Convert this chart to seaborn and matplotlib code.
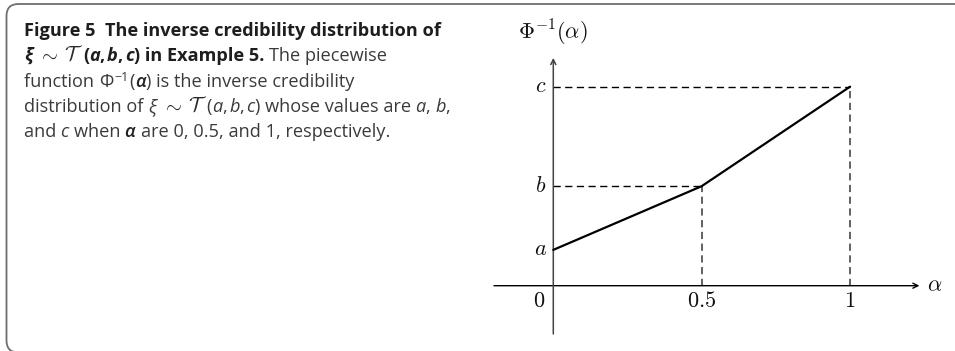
import matplotlib
matplotlib.use("Agg")
import matplotlib.pyplot as plt
from matplotlib.patches import FancyBboxPatch
from matplotlib.transforms import IdentityTransform
import pandas as pd
import seaborn as sns

# Inverse credibility distribution of a triangular fuzzy variable T(a, b, c)
alpha_points = [0.0, 0.5, 1.0]
phi_inverse = [0.36, 1.0, 2.0]            # a, b, c on the vertical scale
x_tick_labels = ["$0$", "$0.5$", "$1$"]
y_tick_labels = ["$a$", "$b$", "$c$"]
x_axis_label = r"$\alpha$"
y_axis_label = r"$\Phi^{-1}(\alpha)$"

W, H, DPI = 955, 351, 100
sns.set_theme(style="white")
plt.rcParams["font.family"] = ["Open Sans", "DejaVu Sans"]

fig = plt.figure(figsize=(W / DPI, H / DPI), dpi=DPI)
fig.patch.set_facecolor("white")
ax = fig.add_axes([0, 0, 1, 1])

df = pd.DataFrame({"alpha": alpha_points, "phi": phi_inverse})
sns.lineplot(data=df, x="alpha", y="phi", ax=ax, color="black", lw=1.6,
             zorder=5, legend=False)

# plot geometry in pixels: origin and pixels per unit
X0, XU = 553.3, 296.7
Y0, YU = 285.7, 99.5
ax.set_xlim(-X0 / XU, (W - X0) / XU)
ax.set_ylim((Y0 - H) / YU, Y0 / YU)
ax.set_axis_off()

# dashed guide lines to both axes
for xa, yv in zip(alpha_points[1:], phi_inverse[1:]):
    ax.plot([0, xa], [yv, yv], color="black", lw=1.0,
            linestyle=(0, (5.2, 3.2)), zorder=3)
    ax.plot([xa, xa], [0, yv], color="#555555", lw=1.3,
            linestyle=(0, (4.0, 2.5)), zorder=3)

# axes with arrow heads
arrow = dict(arrowstyle="->", lw=1.0, color="black", shrinkA=0, shrinkB=0,
             mutation_scale=9)
ax.annotate("", xy=(1.234, 0), xytext=(-0.2, 0), arrowprops=arrow, zorder=4)
ax.annotate("", xy=(0, 2.29), xytext=(0, -0.485),
            arrowprops=dict(arrow, color="#444444", lw=1.1), zorder=4)

math_kw = dict(math_fontfamily="cm", fontsize=16, color="#111111")
for xa, lab in zip(alpha_points, x_tick_labels):
    dx = -14 if xa == 0 else 0
    ax.annotate(lab, xy=(xa, 0), xytext=(dx, -16), textcoords="offset pixels",
                ha="center", va="center", **math_kw)
for yv, lab in zip(phi_inverse, y_tick_labels):
    ax.annotate(lab, xy=(0, yv), xytext=(-13, 0), textcoords="offset pixels",
                ha="center", va="center", **math_kw)
ax.annotate(x_axis_label, xy=(1.234, 0), xytext=(8, 0), textcoords="offset pixels",
            ha="left", va="center", **math_kw)
ax.annotate(y_axis_label, xy=(0, 2.29), xytext=(0, 25), textcoords="offset pixels",
            ha="center", va="center", **math_kw)

# caption frame (right and bottom edges run past the canvas)
frame = FancyBboxPatch((6.5, -1.5), 3000, 348.5,
                       boxstyle="round,pad=0,rounding_size=12",
                       transform=IdentityTransform(), fill=False,
                       edgecolor="#6f6f6f", lw=1.3)
fig.add_artist(frame)

# caption text, laid out run by run
FS = 13.1
R = dict(family=["Open Sans", "DejaVu Sans"], fontsize=FS, color="#3a3a3a")
B = dict(R, weight="bold", color="#1e1e1e")
I = dict(R, style="italic")
BI = dict(B, style="italic")
AL = dict(R, style="italic", weight="semibold", color="#222222")
M = dict(math_fontfamily="cm", fontsize=FS * 1.12, color="#2a2a2a")
SUP = dict(R, fontsize=FS * 0.68)

renderer = fig.canvas.get_renderer()


def advance(s, props):
    if "$" in s:
        t = fig.text(0, 0, s, **props)
        w = t.get_window_extent(renderer).width
        t.remove()
        return w
    t1 = fig.text(0, 0, s + "|", **props)
    t2 = fig.text(0, 0, "|", **props)
    w = (t1.get_window_extent(renderer).width
         - t2.get_window_extent(renderer).width)
    t1.remove()
    t2.remove()
    return w


def draw_line(runs, x, baseline):
    for item in runs:
        s, props = item[0], item[1]
        dy = item[2] if len(item) > 2 else 0
        gap = item[3] if len(item) > 3 else 0
        fig.text(x / W, 1 - (baseline - dy) / H, s, ha="left",
                 va="baseline", **props)
        x += advance(s, props) + gap


caption_lines = [
    [("Figure 5  The inverse credibility distribution of", B)],
    [("ξ", BI, 0, 6), (r"$\sim$", M, 0, 5), (r"$\mathcal{T}$", M, 0, 0),
     ("(", B), ("a", BI), (",", B, 0, 2), ("b", BI), (",", B, 0, 2),
     ("c", BI), (") in Example 5. ", B), ("The piecewise", R)],
    [("function ", R), ("Φ", R, 0, 1), ("−1", SUP, 6, 1), ("(", R),
     ("α", AL, 0, 1), (") is the inverse credibility", R)],
    [("distribution of ", R), ("ξ", I, 0, 6), (r"$\sim$", M, 0, 5),
     (r"$\mathcal{T}$", M, 0, 0), ("(", R), ("a", I), (",", R, 0, 2),
     ("b", I), (",", R, 0, 2), ("c", I), (") whose values are ", R),
     ("a", I), (", ", R), ("b", I), (",", R)],
    [("and ", R), ("c ", I), ("when ", R), ("α ", AL),
     ("are 0, 0.5, and 1, respectively.", R)],
]
baselines = [36, 61, 87, 112, 137]
for runs, bl in zip(caption_lines, baselines):
    draw_line(runs, 24, bl)

fig.savefig("out.png", dpi=DPI, facecolor="white")
